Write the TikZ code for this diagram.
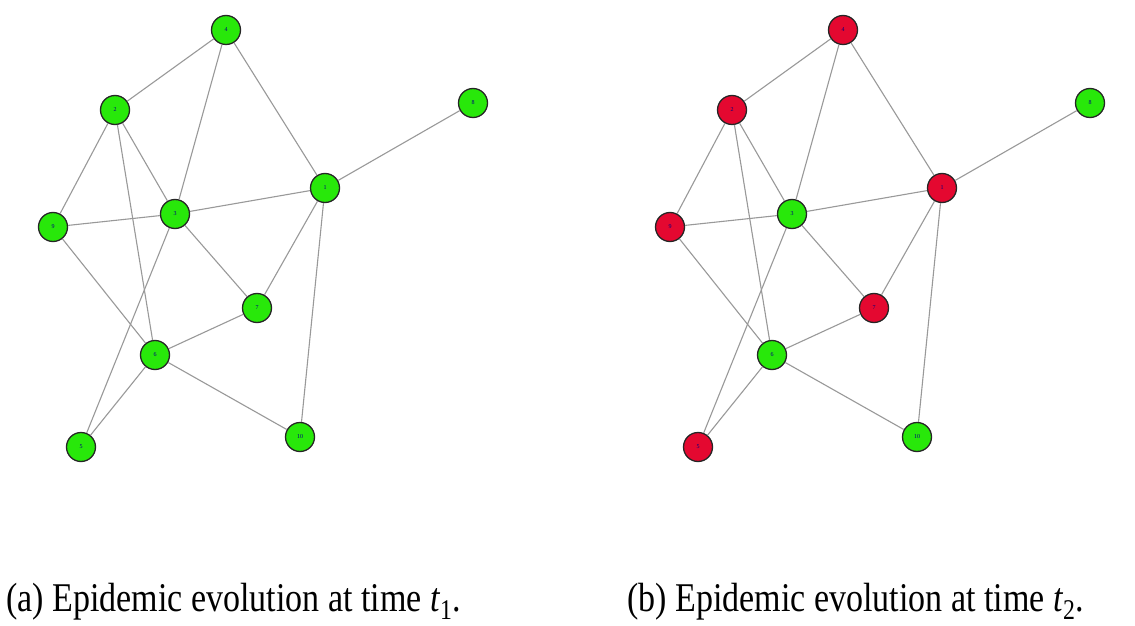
\documentclass[tikz,border=0pt]{standalone}
\usepackage{fontspec}
\setmainfont{Liberation Serif}
\begin{document}
\begin{tikzpicture}[x=1pt,y=1pt,
  vert/.style={circle,draw=black!85,line width=1.3pt,minimum size=29pt,inner sep=0pt,
    font=\fontsize{6}{6}\selectfont,text=blue!50!black},
  healthy/.style={vert,fill=healthygreen},
  infected/.style={vert,fill=infectedred},
  link/.style={draw=black!40,line width=1.1pt},
  caption/.style={font=\fontsize{34}{40}\selectfont,anchor=base west,inner sep=0pt,yscale=1.2}]
\definecolor{healthygreen}{RGB}{40,232,10}
\definecolor{infectedred}{RGB}{228,8,48}
\useasboundingbox (0,0) rectangle (1135,625);
\fill[white] (0,0) rectangle (1135,625);

% two snapshots of the same contact network
\foreach \pre/\dx/\cfour/\ctwo/\cnine/\cone/\cseven/\cfive in
  {a/0/healthy/healthy/healthy/healthy/healthy/healthy,
   b/617/infected/infected/infected/infected/infected/infected}{
  \begin{scope}[xshift=\dx]
    \node[\cfour]  (\pre4)  at (226,595) {4};
    \node[\ctwo]   (\pre2)  at (115,515) {2};
    \node[healthy] (\pre8)  at (473,522) {8};
    \node[\cone]   (\pre1)  at (325,437) {1};
    \node[\cnine]  (\pre9)  at (53,398)  {9};
    \node[healthy] (\pre3)  at (175,411) {3};
    \node[\cseven] (\pre7)  at (257,317) {7};
    \node[healthy] (\pre6)  at (155,270) {6};
    \node[\cfive]  (\pre5)  at (81,178)  {5};
    \node[healthy] (\pre10) at (300,188) {10};
    \foreach \u/\v in {4/2,4/3,4/1,2/9,2/6,2/3,9/3,3/1,1/8,9/6,3/7,3/5,1/7,1/10,6/7,6/5,6/10}
      \draw[link] (\pre\u) -- (\pre\v);
  \end{scope}
}

\node[caption] (capA) at (6,14) {(a) Epidemic evolution at time \textit{t}\textsubscript{1}.};
\node[caption] (capB) at (627,14) {(b) Epidemic evolution at time \textit{t}\textsubscript{2}.};
\end{tikzpicture}
\end{document}
